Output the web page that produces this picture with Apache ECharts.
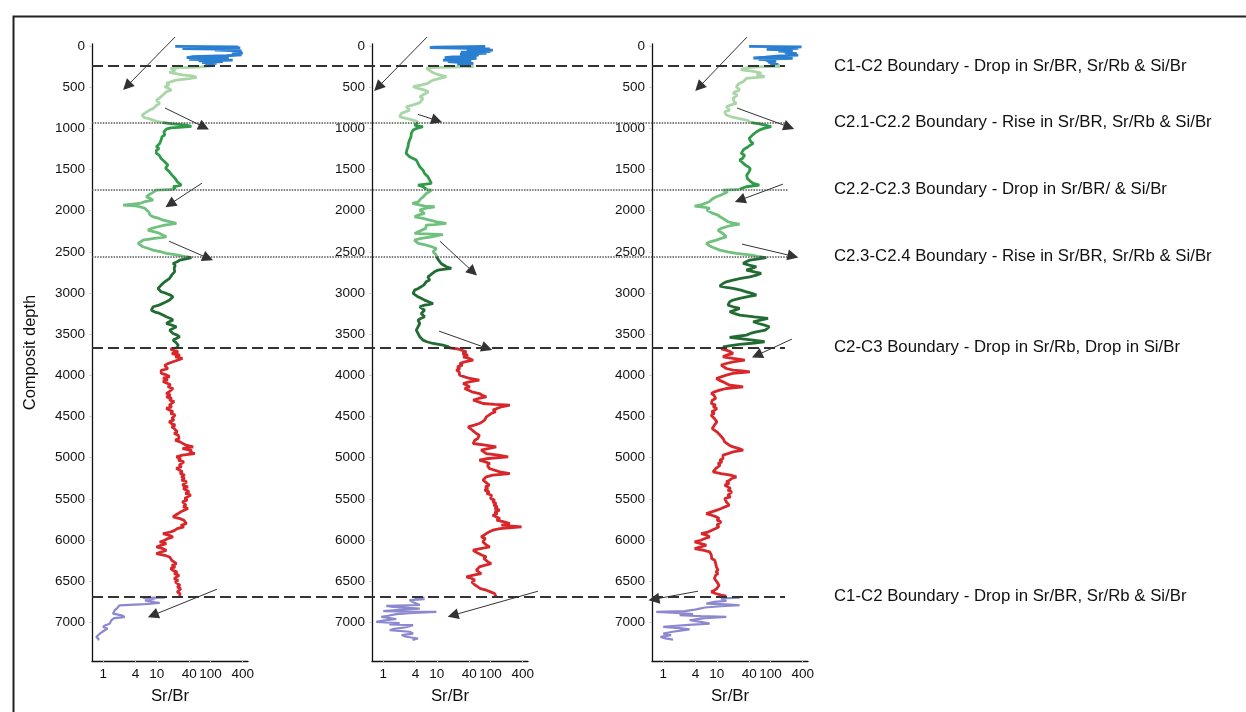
<!DOCTYPE html>
<html lang="en">
<head>
<meta charset="utf-8" />
<title>Sr/Br composite depth</title>
<script src="https://cdn.jsdelivr.net/npm/echarts@6/dist/echarts.min.js"></script>
<style>
  html, body { margin: 0; padding: 0; background: #fff; }
  #box { width: 1246px; height: 712px; }
</style>
</head>
<body>
<div id="box"></div>
<script>
// ---- tick labels ----
var depthTicks = [0, 500, 1000, 1500, 2000, 2500, 3000, 3500, 4000, 4500, 5000, 5500, 6000, 6500, 7000];
var ratioTicks = [1, 4, 10, 40, 100, 400];

// ---- panel 1 traces: [depth, Sr/Br] ----
var p1Blue = [[5,22],[10,330],[16,40],[22,360],[30,30],[40,300],[50,120],[58,380],[66,410],[76,300],[86,400],[96,250],[108,380],[118,200],[130,45],[140,36],[150,220],[160,40],[170,260],[180,60],[190,170],[200,70],[210,130],[220,80],[232,110],[245,90]];
var p1Pale = [[245,90],[255,60],[262,30],[270,18],[285,17],[300,22],[320,17],[335,16],[350,30],[365,48],[381,55],[395,40],[413,23],[430,19],[454,15],[470,17],[494,14],[510,16],[535,18.6],[555,15],[575,15],[595,13],[616,13],[635,11],[656,9.8],[675,10.5],[697,11.3],[715,10],[737,9.8],[758,8.5],[778,7.35],[800,6.5],[818,5.9],[840,5.3],[859,5.1],[870,5.8],[879,6.8],[899,8.5],[919,10.5],[930,13]];
var p1Green = [[930,13],[945,20],[960,35],[975,44],[985,30],[995,18],[1010,15],[1021,15],[1040,13.5],[1061,13],[1080,14],[1100,12.5],[1120,13],[1142,12],[1160,11.5],[1183,11.3],[1200,10.5],[1223,9.8],[1245,11],[1265,9.8],[1285,10.5],[1304,9.8],[1325,11],[1345,10.5],[1365,12],[1385,13],[1405,14],[1426,15],[1445,16],[1465,15],[1485,14.5],[1507,15],[1525,17],[1547,17.3],[1565,19],[1588,20],[1608,22],[1628,23],[1648,24],[1669,23.1],[1689,28.6],[1700,24],[1709,20],[1720,22],[1729,23.1],[1740,20]];
var p1LGreen = [[1740,20],[1750,9.8],[1770,9],[1790,7.9],[1810,7],[1831,6.35],[1850,7.5],[1871,8.5],[1890,6],[1912,4.8],[1932,2.33],[1940,4],[1952,4.8],[1972,6],[1993,6.35],[2013,7],[2033,6.8],[2054,7.5],[2074,8.5],[2094,11],[2114,13],[2135,18],[2155,23.1],[2175,14],[2195,10.5],[2215,8],[2236,6.8],[2256,9],[2276,11.3],[2297,13],[2317,15],[2337,9],[2357,5.5],[2378,5],[2398,4.45],[2418,5],[2438,5.5],[2459,7],[2479,8.5],[2499,12],[2519,15],[2540,25],[2560,35.5]];
var p1DGreen = [[2560,35.5],[2570,44],[2585,35],[2600,26.6],[2620,24],[2641,20],[2660,22],[2681,23.1],[2700,21],[2720,22],[2740,21.5],[2762,21.5],[2780,19],[2800,18],[2822,17.3],[2843,17.3],[2864,14],[2884,13],[2904,12],[2924,11.3],[2945,10.5],[2965,9.8],[2985,12],[3005,15],[3025,18],[3046,20],[3066,19],[3086,17.3],[3107,15],[3127,14],[3147,11],[3167,8.5],[3188,8],[3208,7.9],[3228,9],[3248,11.3],[3268,13],[3289,15],[3309,18],[3329,20],[3350,17],[3370,15],[3390,19],[3410,23.1],[3430,20],[3451,17.3],[3471,18],[3491,20],[3511,24],[3532,26.6],[3552,23],[3572,20],[3592,22],[3613,23.1],[3633,25],[3653,26.6],[3665,24]];
var p1Red = [[3665,24],[3680,18],[3694,20],[3715,25],[3735,19],[3755,27],[3775,22],[3795,30],[3815,28.6],[3835,20],[3858,16],[3880,14],[3900,13],[3920,16],[3940,12],[3960,13],[3977,12.1],[3995,15],[4015,17.3],[4035,13],[4055,16],[4075,13],[4096,14],[4115,18],[4138,16],[4160,20],[4180,21.5],[4200,17],[4220,15],[4240,18],[4261,15],[4280,19],[4300,17],[4320,21],[4342,20],[4362,17],[4382,19],[4402,15],[4422,16.1],[4442,20],[4462,18],[4482,22],[4503,23.1],[4523,19],[4543,21],[4563,17],[4585,18.6],[4605,22],[4625,19],[4645,21],[4666,20],[4686,24],[4706,21],[4726,25],[4747,23.1],[4767,26],[4787,22],[4808,27],[4828,26.6],[4848,35],[4869,47.5],[4890,30],[4910,45],[4930,40],[4950,51],[4970,30],[4990,23.1],[5010,28],[5030,25],[5050,32],[5070,30.9],[5090,26],[5110,29],[5130,23],[5152,24.8],[5172,30],[5192,27],[5212,33],[5233,28.6],[5253,33],[5273,29],[5293,36],[5314,35.5],[5334,30],[5354,38],[5374,31],[5395,33.2],[5415,40],[5435,34],[5455,43],[5476,41.2],[5496,33],[5516,37],[5536,30],[5557,28.6],[5577,35],[5597,31],[5617,38],[5638,35.5],[5658,28],[5678,25],[5700,22],[5720,20],[5740,27],[5760,32],[5780,30],[5801,35.5],[5821,28],[5841,32],[5862,24],[5883,21.5],[5903,18],[5923,13],[5943,17],[5963,20],[5983,16],[6004,14],[6024,11.3],[6044,15],[6064,12],[6085,9.8],[6105,13],[6126,15],[6146,12],[6166,9.8],[6186,14],[6207,17.3],[6227,16],[6247,19],[6268,18],[6288,23.1],[6308,19],[6328,22],[6348,18],[6369,20],[6389,24],[6409,21],[6430,26],[6450,24.8],[6470,21],[6490,25],[6510,22],[6531,23.1],[6551,27],[6571,24],[6592,28],[6612,26.6],[6632,24],[6652,27],[6672,25],[6690,26.6]];
var p1Purple = [[6700,14],[6703,5.5],[6707,9.8],[6713,6.35],[6720,9],[6734,6],[6750,8],[6765,11.3],[6774,11.3],[6780,6],[6794,2.02],[6810,2],[6830,1.8],[6855,1.63],[6875,1.7],[6895,1.52],[6915,2.2],[6936,2.5],[6950,1.6],[6976,1.41],[6995,1.5],[7017,1.32],[7035,1.1],[7057,0.99],[7075,1.2],[7098,1.14],[7118,0.95],[7138,0.86],[7158,0.8],[7179,0.74],[7200,0.82],[7219,0.8]];

// ---- panel 2 traces ----
var p2Blue = [[5,80],[12,9],[20,7.4],[28,40],[35,97],[42,60],[50,111],[58,36],[66,100],[74,28],[82,70],[90,84],[98,27],[108,60],[120,50],[132,20],[142,14],[150,55],[160,30],[170,13],[180,44],[190,16],[200,30],[212,48],[222,24],[232,42],[240,30],[245,48]];
var p2Pale = [[245,48],[255,20],[262,8],[271,6.35],[290,6.8],[311,7.9],[330,9],[350,11],[372,15],[390,12],[413,8.5],[433,7.5],[454,6.8],[474,5],[494,3.6],[515,4.5],[535,5.9],[555,7],[575,7.35],[595,5.5],[616,4.8],[636,5.5],[656,5.9],[677,5],[697,4.45],[717,3.5],[737,2.68],[758,2.9],[778,3.1],[798,2.6],[818,2.18],[838,2.1],[859,2.02],[879,2.68],[899,3.6],[914,4.2],[930,4.45]];
var p2Green = [[930,4.45],[945,4.8],[960,3.85],[972,4.5],[980,5.5],[1000,4.2],[1021,3.6],[1040,3.45],[1061,3.33],[1080,3.2],[1100,3.3],[1120,3.1],[1142,3.1],[1162,3.0],[1183,2.95],[1203,2.9],[1223,2.9],[1243,2.8],[1264,2.75],[1284,2.7],[1304,2.68],[1325,2.9],[1345,3.1],[1365,3.6],[1385,4.13],[1405,4.0],[1426,4.45],[1446,4.6],[1466,4.8],[1487,5.0],[1507,5.5],[1527,5.7],[1547,5.9],[1568,6.3],[1588,6.8],[1608,7.0],[1628,7.35],[1648,7.6],[1669,7.9],[1689,4.45],[1700,5.0],[1709,5.5],[1725,6.0],[1740,6.35]];
var p2LGreen = [[1740,6.35],[1750,7.9],[1770,7.2],[1790,6.35],[1810,6],[1831,5.6],[1851,5.1],[1871,5.3],[1891,4.5],[1912,3.5],[1932,3.33],[1945,6],[1952,9.1],[1972,6],[1993,4.8],[2013,5.3],[2033,5.9],[2053,4.5],[2074,3.85],[2094,5.5],[2114,7.35],[2135,10],[2155,15],[2170,9],[2175,6.35],[2195,6.0],[2215,6.2],[2236,5.9],[2256,4.5],[2276,3.85],[2290,13],[2297,11.3],[2317,8],[2337,5.1],[2357,3.8],[2378,3.6],[2398,4.5],[2418,6.35],[2438,8],[2459,9.8],[2479,9],[2499,8.5],[2519,9.0],[2540,9.8],[2560,9.8]];
var p2DGreen = [[2560,9.8],[2580,10.5],[2600,10.8],[2620,11.3],[2641,12],[2660,13],[2681,15],[2700,18.6],[2715,12],[2722,10.5],[2742,9],[2762,8.5],[2782,7.5],[2803,6.8],[2823,7.35],[2843,7.35],[2864,6.3],[2884,5.9],[2904,5.7],[2924,5.5],[2945,4.5],[2965,3.85],[2985,3.7],[3005,3.6],[3025,4],[3046,4.45],[3066,5.2],[3086,5.9],[3107,7],[3127,8.5],[3140,7],[3147,5.9],[3167,4.8],[3188,5.2],[3208,5.9],[3228,5.5],[3248,5.1],[3268,5.5],[3289,5.9],[3309,5.0],[3329,4.45],[3350,4.6],[3370,4.8],[3390,4.6],[3410,4.45],[3430,4.3],[3451,4.13],[3471,4.3],[3491,4.45],[3511,4.6],[3532,4.8],[3552,5.1],[3572,5.5],[3592,6.5],[3613,8.5],[3633,13],[3650,16],[3665,17.3]];
var p2Red = [[3665,17.3],[3680,25],[3694,23.1],[3715,35.5],[3735,30],[3755,38],[3775,30.9],[3795,40],[3816,47.5],[3836,33],[3856,26.6],[3876,30],[3897,24],[3917,27],[3937,23.1],[3957,26],[3978,24],[3998,26.6],[4018,33],[4038,41.2],[4059,62],[4079,40],[4099,30.9],[4120,36],[4140,41.2],[4160,33],[4180,35.5],[4200,45],[4221,62],[4241,70],[4261,83.6],[4281,60],[4302,47.5],[4322,60],[4342,72.3],[4352,120],[4362,230],[4382,160],[4403,148],[4423,111],[4443,125],[4464,103],[4484,95],[4504,83.6],[4524,90],[4545,77.7],[4565,70],[4585,62],[4605,50],[4626,38.3],[4646,42],[4666,44],[4686,50],[4707,54.5],[4727,62],[4747,67],[4767,58],[4788,51],[4808,49],[4828,47.5],[4848,80],[4869,128],[4889,90],[4909,67],[4930,75],[4950,83.6],[4970,140],[4990,214],[5010,90],[5031,62],[5051,80],[5071,97],[5092,88],[5112,83.6],[5132,95],[5152,103],[5172,150],[5193,230],[5213,110],[5233,83.6],[5253,78],[5274,72.3],[5294,80],[5314,83.6],[5334,95],[5354,80],[5375,90],[5395,77.7],[5415,95],[5435,85],[5456,105],[5476,111],[5496,100],[5516,120],[5537,110],[5557,128],[5577,115],[5597,135],[5618,120],[5638,148],[5658,120],[5678,135],[5699,110],[5719,119],[5739,150],[5759,130],[5780,180],[5800,230],[5820,160],[5841,380],[5861,150],[5881,111],[5901,95],[5922,83.6],[5942,75],[5962,67],[5982,80],[6003,83.6],[6023,72],[6043,67],[6064,85],[6084,97],[6104,65],[6124,47.5],[6144,52],[6165,54.5],[6185,70],[6205,83.6],[6225,75],[6246,77.7],[6266,90],[6286,103],[6306,80],[6327,62],[6347,58],[6367,54.5],[6387,60],[6408,67],[6428,48],[6448,35.5],[6468,45],[6489,51],[6509,45],[6529,47.5],[6549,52],[6570,54.5],[6590,65],[6610,83.6],[6630,100],[6651,119],[6671,125],[6691,128]];
var p2Purple = [[6700,5.9],[6711,3.85],[6720,5.9],[6731,3.1],[6752,3.5],[6772,4.13],[6790,4.8],[6800,1.14],[6813,1.52],[6833,4.8],[6850,2.02],[6865,1.0],[6873,9.8],[6885,3.6],[6900,1.75],[6920,1.22],[6934,0.92],[6960,1.75],[6980,1.0],[6995,0.74],[7010,2.02],[7025,1.3],[7035,3.6],[7060,2.68],[7080,1.6],[7096,1.32],[7115,3.1],[7137,3.6],[7155,2.2],[7175,2.68],[7197,4.45],[7215,3.5]];

// ---- panel 3 traces ----
var p3Blue = [[5,40],[10,380],[18,100],[28,330],[40,85],[49,260],[60,140],[70,260],[80,185],[89,307],[100,190],[109,330],[120,148],[135,80],[145,48],[150,260],[160,60],[170,100],[178,84],[186,128],[194,90],[204,110],[214,100],[224,140],[234,120],[245,150]];
var p3Pale = [[245,150],[252,60],[262,38],[271,35.5],[282,28],[292,30.9],[305,45],[320,60],[332,67],[350,55],[362,70],[373,77.7],[383,50],[393,35.5],[413,33],[433,30.9],[454,26],[474,28],[494,23.1],[515,25],[535,26.6],[555,22],[575,20],[595,24],[616,24.8],[636,20],[656,18.6],[677,21],[697,23.1],[717,18],[737,15],[758,16],[778,17.3],[798,14],[818,13],[838,15],[859,18.6],[879,25],[899,35.5],[915,40],[930,44]];
var p3Green = [[930,44],[945,62],[960,80],[980,103],[1000,75],[1021,62],[1041,55],[1061,51],[1082,46],[1102,44],[1122,40],[1142,38.3],[1162,43],[1183,47.5],[1203,42],[1223,38.3],[1244,34],[1264,30.9],[1284,29],[1304,28.6],[1325,33],[1345,35.5],[1365,30],[1385,26.6],[1405,29],[1426,30.9],[1446,34],[1466,38.3],[1487,42],[1507,44],[1527,40],[1547,38.3],[1568,36],[1588,35.5],[1608,37],[1628,38.3],[1648,43],[1669,47.5],[1689,62],[1700,45],[1709,35.5],[1725,30],[1740,26.6]];
var p3LGreen = [[1740,26.6],[1750,13],[1770,16],[1790,15],[1810,12],[1831,9.8],[1851,8.5],[1871,7.9],[1891,7.2],[1912,6.8],[1930,5],[1944,3.85],[1958,6],[1972,7.35],[1993,6.5],[2013,6.8],[2033,8.5],[2053,10.5],[2074,11.5],[2094,13],[2114,14],[2134,16.1],[2150,20],[2163,26.6],[2180,18],[2195,15],[2215,12],[2236,10.5],[2256,11.5],[2276,13],[2297,14],[2317,15],[2337,12],[2357,9.8],[2378,7.5],[2398,6.35],[2418,7],[2438,7.9],[2459,9.5],[2479,11.3],[2499,16],[2519,23.1],[2540,45],[2560,62]];
var p3DGreen = [[2560,62],[2570,83.6],[2585,60],[2600,41.2],[2620,35],[2641,30.9],[2660,40],[2681,54.5],[2700,45],[2722,35.5],[2742,50],[2762,67],[2782,55],[2803,41.2],[2823,28],[2843,20],[2864,15],[2884,13],[2900,12],[2916,11.3],[2930,15],[2944,20],[2965,28],[2985,35.5],[3005,45],[3025,54.5],[3045,38],[3066,26.6],[3086,20],[3106,17.3],[3127,16.5],[3147,16.1],[3167,20],[3187,26.6],[3208,22],[3228,17.3],[3248,21],[3268,26.6],[3290,50],[3309,90],[3329,65],[3349,47.5],[3370,60],[3390,77.7],[3410,95],[3430,103],[3451,80],[3471,54.5],[3491,42],[3511,35.5],[3525,25],[3540,17.3],[3556,30],[3572,47.5],[3592,77.7],[3610,45],[3625,26.6],[3640,18],[3653,13],[3665,15]];
var p3Red = [[3665,15],[3680,12],[3694,15],[3715,18],[3735,20],[3755,15],[3775,13],[3795,20],[3816,33.2],[3836,20],[3856,15],[3876,12],[3897,11.3],[3917,15],[3937,20],[3947,30],[3957,41.2],[3977,20],[3998,15],[4018,12],[4038,9.8],[4058,11],[4079,13],[4099,15],[4119,17.3],[4130,25],[4140,30.9],[4160,15],[4180,11.3],[4200,9],[4221,7.9],[4241,8.8],[4261,8.5],[4281,9.5],[4302,8.2],[4322,8.8],[4342,7.9],[4362,9.5],[4382,8.5],[4403,10],[4423,9.1],[4443,8],[4464,9],[4484,7.8],[4504,7.35],[4524,9],[4545,8.5],[4565,10],[4585,10.5],[4605,9],[4626,9.8],[4646,8.2],[4666,8.5],[4686,10],[4707,9.5],[4727,11.5],[4747,11.3],[4767,13],[4788,12],[4808,14],[4828,15],[4848,17],[4869,20],[4889,26],[4909,30.9],[4930,20],[4950,16.1],[4970,13],[4990,12],[5010,13],[5031,11.3],[5051,12.5],[5071,10.5],[5092,11.5],[5112,10.5],[5132,9.5],[5152,10],[5172,8.5],[5193,12],[5213,18],[5233,23.1],[5253,19],[5274,17.3],[5294,15],[5314,17],[5334,14],[5355,15],[5375,18],[5395,16],[5415,19],[5436,20],[5456,16],[5476,18],[5496,14],[5517,13],[5537,15],[5557,14],[5577,17],[5598,16.1],[5618,12],[5638,10],[5658,8],[5679,6.35],[5699,8],[5719,9.8],[5739,11],[5759,10],[5780,12],[5800,11.3],[5820,10],[5840,11],[5861,9.5],[5881,9.1],[5901,7],[5922,5.1],[5942,6.5],[5962,7.35],[5982,6],[6003,5],[6023,3.85],[6043,5],[6063,6.35],[6084,5],[6104,3.85],[6124,5.5],[6144,7.35],[6165,7],[6185,7.9],[6205,8.5],[6225,8],[6246,9.1],[6266,8.5],[6286,9.5],[6306,9],[6327,9.8],[6347,9.2],[6367,10.5],[6387,9.6],[6408,10.5],[6428,9.5],[6448,10],[6468,9],[6489,8.5],[6509,10],[6529,9.5],[6549,11],[6570,11.3],[6590,10],[6610,9],[6630,7.9],[6650,9.5],[6670,12],[6683,15]];
var p3Purple = [[6695,20],[6700,26.6],[6710,12],[6720,11.3],[6740,15],[6752,9],[6772,6.35],[6782,15],[6793,26.6],[6805,12],[6820,6],[6833,4.8],[6850,3.6],[6865,2.5],[6873,0.74],[6885,1.8],[6900,3.6],[6914,2.02],[6925,5],[6934,15],[6950,6],[6965,4],[6975,3.1],[6995,5],[7015,7.35],[7030,3],[7045,1.5],[7056,1.0],[7070,2],[7085,3.1],[7096,3.1],[7115,1.5],[7137,1.0],[7155,1.4],[7177,0.89],[7195,1.1],[7210,1.52]];

// ---- arrows: [fromRatio, fromDepth, toRatio, toDepth] ----
var p1Arrows = [[21.8,-109,2.77,486],[14.2,753,75.7,984],[69.5,1665,17.6,1920],[16.8,2370,89.9,2576],[132,6598,8.47,6914]];
var p2Arrows = [[6.55,-109,0.80,498],[4.45,830,10,905],[11.4,2370,47.2,2743],[11,3463,86,3670],[771,6622,20,6914]];
var p3Arrows = [[36.5,-109,4.65,498],[23.8,753,222,984],[171,1677,27,1871],[29.4,2406,263,2552],[251,3560,56,3755],[4.45,6622,0.67,6720]];

// ---- boundaries ----
var boundaryDepths = [245, 930, 1740, 2560, 3665, 6690];
var boundaryDashed = [true, false, false, false, true, true];
var boundaryTexts = [
  'C1-C2 Boundary - Drop in Sr/BR, Sr/Rb & Si/Br',
  'C2.1-C2.2 Boundary - Rise in Sr/BR, Sr/Rb & Si/Br',
  'C2.2-C2.3 Boundary - Drop in Sr/BR/ & Si/Br',
  'C2.3-C2.4 Boundary - Rise in Sr/BR, Sr/Rb & Si/Br',
  'C2-C3 Boundary - Drop in Sr/Rb, Drop in Si/Br',
  'C1-C2 Boundary - Drop in Sr/BR, Sr/Rb & Si/Br'
];

var segColors = ['#2a7fd2', '#a9d6a7', '#2f9a48', '#70c07e', '#226c34', '#d8262b', '#8c88d0'];
var FONT = '"Liberation Sans", Arial, sans-serif';

var panels = [
  { left: 92,  segs: [p1Blue, p1Pale, p1Green, p1LGreen, p1DGreen, p1Red, p1Purple], arrows: p1Arrows },
  { left: 372, segs: [p2Blue, p2Pale, p2Green, p2LGreen, p2DGreen, p2Red, p2Purple], arrows: p2Arrows },
  { left: 652, segs: [p3Blue, p3Pale, p3Green, p3LGreen, p3DGreen, p3Red, p3Purple], arrows: p3Arrows }
];

var TOP = 44, H = 617, W = 156;
var grids = [], xAxes = [], yAxes = [], series = [];

function lg(v) { return Math.log10(v); }

panels.forEach(function (p, i) {
  grids.push({ left: p.left, top: TOP, width: W, height: H });
  xAxes.push({
    gridIndex: i, type: 'value', min: -0.21, max: 2.70,
    name: 'Sr/Br', nameLocation: 'middle', nameGap: 27,
    nameTextStyle: { fontSize: 16.8, color: '#111', fontFamily: FONT },
    axisLine: { onZero: false, lineStyle: { color: '#111', width: 1.3 } },
    axisTick: { show: true, length: 2, customValues: ratioTicks.map(lg), lineStyle: { color: '#bbb' } },
    axisLabel: {
      customValues: ratioTicks.map(lg), margin: 6, fontSize: 13.5, color: '#111', fontFamily: FONT,
      formatter: function (v) { return String(Math.round(Math.pow(10, v))); }
    },
    splitLine: { show: false }
  });
  yAxes.push({
    gridIndex: i, type: 'value', inverse: true, min: -25, max: 7470,
    name: i === 0 ? 'Composit depth' : '', nameLocation: 'middle', nameGap: 53, nameRotate: 90,
    nameTextStyle: { fontSize: 16.5, color: '#111', fontFamily: FONT },
    axisLine: { show: true, onZero: false, lineStyle: { color: '#111', width: 1.3 } },
    axisTick: { show: true, length: 3, customValues: depthTicks, lineStyle: { color: '#ccc' } },
    axisLabel: {
      customValues: depthTicks, margin: 7, fontSize: 13.5, color: '#111', fontFamily: FONT,
      formatter: function (v) { return String(v); }
    },
    splitLine: { show: false }
  });
  p.segs.forEach(function (seg, k) {
    series.push({
      type: 'line', xAxisIndex: i, yAxisIndex: i, showSymbol: false, silent: true,
      lineStyle: { color: segColors[k], width: k === 6 ? 2.2 : 2.8 },
      data: seg.map(function (d) { return [lg(d[1]), d[0]]; })
    });
  });
  // arrows as a lines series so ends outside the axis range are kept
  series.push({
    type: 'lines', coordinateSystem: 'cartesian2d', xAxisIndex: i, yAxisIndex: i,
    clip: false, silent: true, z: 5,
    symbol: ['none', 'triangle'], symbolSize: 11,
    lineStyle: { color: '#333', width: 1, opacity: 1 },
    data: p.arrows.map(function (a) {
      return { coords: [[lg(a[0]), a[1]], [lg(a[2]), a[3]]] };
    })
  });
});

// overlay grid for boundary lines and their notes
grids.push({ left: 92, top: TOP, width: 1140, height: H });
xAxes.push({ gridIndex: 3, type: 'value', min: 0, max: 1140, show: false });
yAxes.push({ gridIndex: 3, type: 'value', inverse: true, min: -25, max: 7470, show: false });
series.push({
  type: 'line', xAxisIndex: 3, yAxisIndex: 3, data: [], clip: false, silent: true,
  markLine: {
    silent: true, symbol: ['none', 'none'],
    label: { show: true, position: 'end', color: '#111', fontSize: 16.8, fontFamily: FONT },
    data: boundaryDepths.map(function (d, k) {
      var dashed = boundaryDashed[k];
      var end = dashed ? 693 : 696;
      return [
        {
          coord: [0, d],
          lineStyle: dashed ? { color: '#333', width: 2, type: [11, 5] } : { color: '#555', width: 1.6, type: [1.5, 1.2] },
          label: { formatter: boundaryTexts[k], distance: 742 - end }
        },
        { coord: [end, d] }
      ];
    })
  }
});

var myChart = echarts.init(document.getElementById('box'));
myChart.setOption({
  animation: false,
  backgroundColor: '#fff',
  textStyle: { fontFamily: FONT },
  graphic: [{
    type: 'rect', left: 11, top: 14, silent: true,
    shape: { width: 1300, height: 800 },
    style: { fill: 'none', stroke: '#222', lineWidth: 2 }
  }],
  grid: grids,
  xAxis: xAxes,
  yAxis: yAxes,
  series: series
});
</script>
</body>
</html>
